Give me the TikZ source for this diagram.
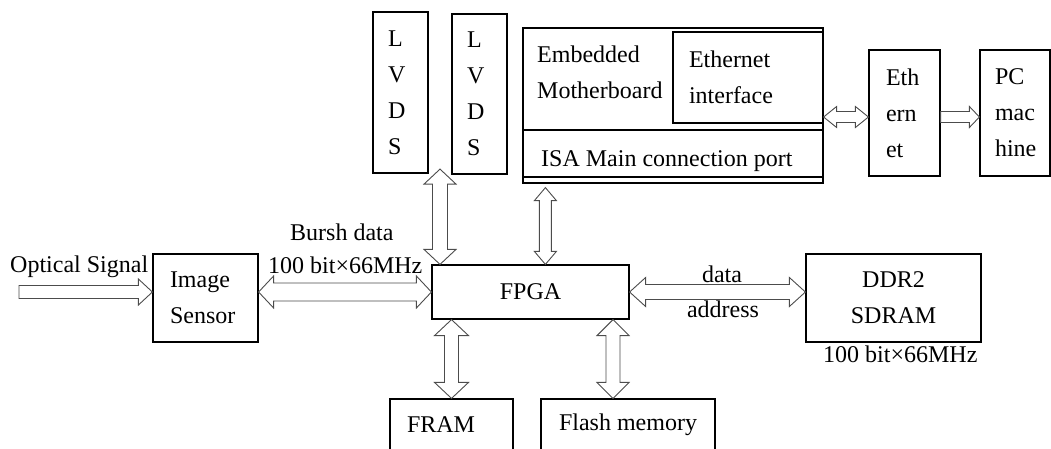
\documentclass[tikz,border=0pt]{standalone}
\usepackage{fontspec}
\setmainfont{Liberation Serif}
\usetikzlibrary{calc}

\tikzset{
  box/.style={draw, line width=1.2pt, inner sep=0pt},
  leftbox/.style={box, align=left, text width=#1},
  lbl/.style={inner sep=0pt},
  blockarrow/.style={draw=black!70, line width=0.9pt, fill=white, line join=miter},
}

% hollow block arrows: from, to, half shaft, half head, head length
\newcommand{\dblarrow}[5]{%
  \path (#1) coordinate (ba1) (#2) coordinate (ba2);
  \path ($(ba1)!#5!(ba2)$) coordinate (bh1) ($(ba2)!#5!(ba1)$) coordinate (bh2);
  \draw[blockarrow] (ba1) -- ($(bh1)!#4!90:(ba2)$) -- ($(bh1)!#3!90:(ba2)$)
    -- ($(bh2)!#3!-90:(ba1)$) -- ($(bh2)!#4!-90:(ba1)$) -- (ba2)
    -- ($(bh2)!#4!90:(ba1)$) -- ($(bh2)!#3!90:(ba1)$)
    -- ($(bh1)!#3!-90:(ba2)$) -- ($(bh1)!#4!-90:(ba2)$) -- cycle;}
\newcommand{\sglarrow}[5]{%
  \path (#1) coordinate (ba1) (#2) coordinate (ba2);
  \path ($(ba2)!#5!(ba1)$) coordinate (bh2);
  \draw[blockarrow] ($(ba1)!#3!90:(ba2)$) -- ($(bh2)!#3!-90:(ba1)$)
    -- ($(bh2)!#4!-90:(ba1)$) -- (ba2) -- ($(bh2)!#4!90:(ba1)$)
    -- ($(bh2)!#3!90:(ba1)$) -- ($(ba1)!#3!-90:(ba2)$) -- cycle;}

\begin{document}
\begin{tikzpicture}[x=1pt, y=-1pt, font=\fontsize{24}{36}\selectfont]
\path[use as bounding box, clip] (0,0) rectangle (1051,448);

% top row
\node[leftbox=25pt, inner xsep=15pt, minimum height=161pt] (lvdsa) at (400.5,92.5) {L\\V\\D\\S};
\node[leftbox=25pt, inner xsep=15pt, minimum height=160pt] (lvdsb) at (479.5,94) {L\\V\\D\\S};
\node[box, minimum width=300pt, minimum height=155pt] (mb) at (673,105.5) {};
\node[leftbox=118pt, inner xsep=16pt, minimum height=91pt] (eif) at (748,77.5) {Ethernet\\interface};
\node[lbl, anchor=west, align=left] (mbtxt) at (537,72.5) {Embedded\\Motherboard};
\node[box, minimum width=300pt, minimum height=47pt] (isa) at (673,153.5) {};
\node[lbl, anchor=base west] (isatxt) at (541,166) {ISA Main connection port};
\node[leftbox=37pt, inner xsep=17pt, minimum height=126pt] (eth) at (904.5,113) {Eth\\ern\\et};
\node[leftbox=40pt, inner xsep=15pt, minimum height=126pt] (pc) at (1015,113) {PC\\mac\\hine};

% middle row
\node[leftbox=71pt, inner xsep=17pt, minimum height=88pt] (img) at (205.5,298) {Image\\Sensor};
\node[box, minimum width=197pt, minimum height=54pt] (fpga) at (530.5,292) {FPGA};
\node[box, align=center, minimum width=175pt, minimum height=88pt] (ddr) at (893.5,298) {DDR2\\SDRAM};

% bottom row
\node[leftbox=89pt, inner xsep=17pt, minimum height=52pt] (fram) at (451.5,425) {FRAM};
\node[box, minimum width=174pt, minimum height=52pt] (flash) at (628,425) {Flash memory};

% labels
\node[lbl, anchor=base west] (optlbl) at (10,272) {Optical Signal};
\node[lbl, anchor=base west] (burst) at (290,240) {Bursh data};
\node[lbl, anchor=base west] (rateimg) at (268,273) {100 bit×66MHz};
\node[lbl, anchor=base] (datalbl) at (722,282) {data};
\node[lbl, anchor=base] (addrlbl) at (723,317) {address};
\node[lbl, anchor=base west] (rateddr) at (823,362) {100 bit×66MHz};

% arrows
\coordinate (optin) at (19,292);
\coordinate (lvdsarr) at ($(lvdsa.south east)!0.5!(lvdsb.south west)+(0,-5)$);
\coordinate (mbarr) at ($(mb.south west)+(23,4)$);
\coordinate (flasharr) at ($(flash.north)+(-15,0)$);
\coordinate (mbeth) at ([yshift=-11.5pt]mb.east);
\sglarrow{optin}{optin -| img.west}{6.5pt}{13pt}{14pt}
\dblarrow{[yshift=6pt]img.east}{fpga.west}{9pt}{16pt}{15pt}
\dblarrow{lvdsarr}{lvdsarr |- fpga.north}{7.5pt}{16pt}{15pt}
\dblarrow{mbarr}{mbarr |- fpga.north}{6pt}{11pt}{13pt}
\dblarrow{fpga.east}{fpga.east -| ddr.west}{7.5pt}{14.5pt}{16pt}
\dblarrow{fram.north |- fpga.south}{fram.north}{7pt}{17pt}{16pt}
\dblarrow{flasharr |- fpga.south}{flasharr}{7pt}{16pt}{16pt}
\dblarrow{mbeth}{mbeth -| eth.west}{5.5pt}{10.5pt}{13pt}
\sglarrow{mbeth -| eth.east}{mbeth -| pc.west}{5.5pt}{10.5pt}{10pt}
\end{tikzpicture}
\end{document}
